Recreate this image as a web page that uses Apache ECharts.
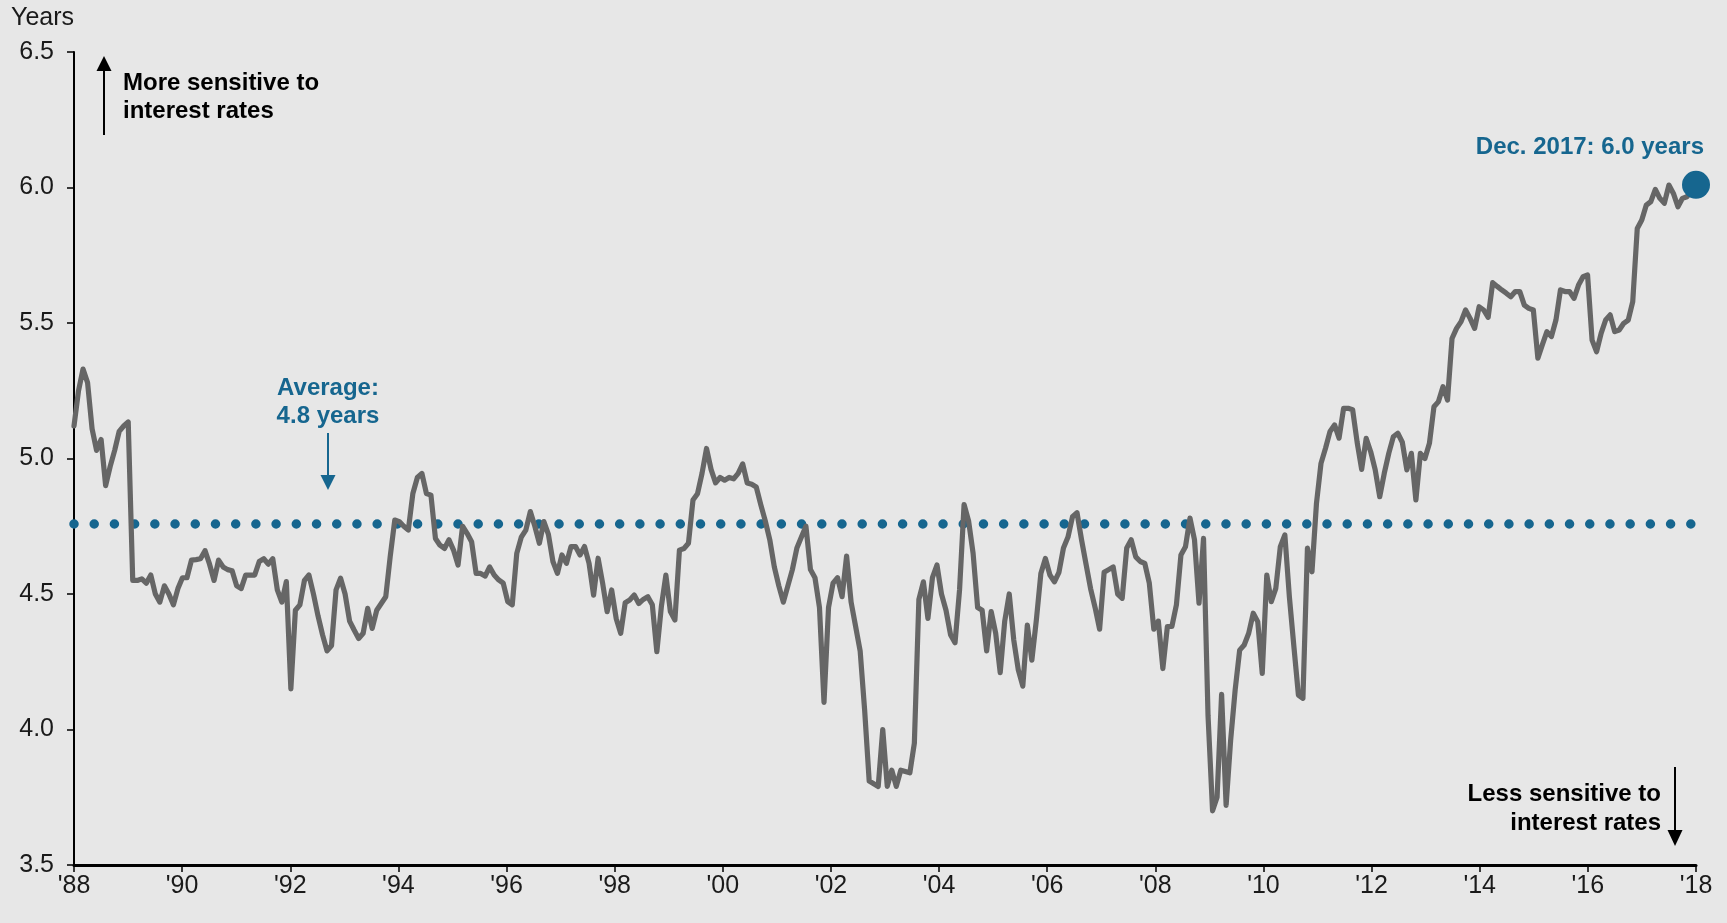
<!DOCTYPE html>
<html>
<head>
<meta charset="utf-8">
<script src="https://cdn.jsdelivr.net/npm/echarts@6/dist/echarts.min.js"></script>
<style>
html,body{margin:0;padding:0;background:#e7e7e7;}
#chart{width:1727px;height:923px;}
</style>
</head>
<body>
<div id="chart"></div>
<script>
// ---- Data ----
const startYear = 1988;
const endYear = 2018;
const tickYears = [1988,1990,1992,1994,1996,1998,2000,2002,2004,2006,2008,2010,2012,2014,2016,2018];
const yTicks = [3.5, 4.0, 4.5, 5.0, 5.5, 6.0, 6.5];
// Monthly duration (years), Jan 1988 .. Dec 2017, one row per year
const duration = [
  5.12, 5.25, 5.33, 5.28, 5.11, 5.03, 5.07, 4.90, 4.97, 5.03, 5.10, 5.12,
  5.135, 4.55, 4.55, 4.556, 4.54, 4.57, 4.50, 4.47, 4.53, 4.50, 4.46, 4.52,
  4.56, 4.56, 4.625, 4.627, 4.63, 4.66, 4.61, 4.55, 4.625, 4.60, 4.59, 4.586,
  4.53, 4.52, 4.57, 4.57, 4.57, 4.62, 4.63, 4.61, 4.63, 4.515, 4.47, 4.546,
  4.15, 4.44, 4.46, 4.55, 4.57, 4.50, 4.42, 4.35, 4.29, 4.31, 4.515, 4.558,
  4.50, 4.40, 4.367, 4.336, 4.355, 4.447, 4.373, 4.44, 4.465, 4.49, 4.64, 4.773,
  4.767, 4.75, 4.736, 4.871, 4.93, 4.945, 4.871, 4.865, 4.705, 4.68, 4.668, 4.70,
  4.662, 4.607, 4.75, 4.724, 4.693, 4.576, 4.576, 4.566, 4.60, 4.57, 4.552, 4.54,
  4.472, 4.46, 4.65, 4.71, 4.736, 4.804, 4.75, 4.687, 4.767, 4.72, 4.62, 4.576,
  4.644, 4.613, 4.675, 4.675, 4.644, 4.675, 4.613, 4.496, 4.632, 4.54, 4.435, 4.515,
  4.41, 4.355, 4.468, 4.478, 4.496, 4.465, 4.48, 4.49, 4.46, 4.287, 4.453, 4.57,
  4.435, 4.404, 4.662, 4.668, 4.687, 4.847, 4.87, 4.945, 5.037, 4.96, 4.91, 4.93,
  4.92, 4.93, 4.925, 4.945, 4.98, 4.91, 4.905, 4.895, 4.83, 4.77, 4.70, 4.60,
  4.53, 4.47, 4.53, 4.59, 4.67, 4.71, 4.75, 4.59, 4.56, 4.45, 4.10, 4.45,
  4.54, 4.56, 4.49, 4.64, 4.47, 4.38, 4.29, 4.07, 3.81, 3.80, 3.79, 4.00,
  3.79, 3.85, 3.79, 3.85, 3.845, 3.84, 3.95, 4.48, 4.545, 4.41, 4.56, 4.607,
  4.50, 4.44, 4.35, 4.32, 4.515, 4.83, 4.77, 4.65, 4.45, 4.44, 4.29, 4.435,
  4.355, 4.21, 4.40, 4.50, 4.33, 4.22, 4.16, 4.385, 4.256, 4.404, 4.576, 4.631,
  4.57, 4.545, 4.58, 4.67, 4.71, 4.785, 4.80, 4.70, 4.61, 4.52, 4.45, 4.37,
  4.58, 4.59, 4.60, 4.50, 4.484, 4.67, 4.70, 4.637, 4.62, 4.613, 4.54, 4.37,
  4.40, 4.225, 4.38, 4.38, 4.46, 4.644, 4.674, 4.78, 4.70, 4.466, 4.705, 4.05,
  3.70, 3.75, 4.13, 3.72, 3.96, 4.146, 4.293, 4.312, 4.355, 4.429, 4.398, 4.207,
  4.57, 4.472, 4.521, 4.675, 4.718, 4.49, 4.306, 4.127, 4.115, 4.669, 4.582, 4.835,
  4.982, 5.038, 5.10, 5.124, 5.075, 5.185, 5.185, 5.18, 5.06, 4.96, 5.074, 5.025,
  4.958, 4.859, 4.945, 5.019, 5.08, 5.093, 5.06, 4.958, 5.019, 4.847, 5.019, 5.0,
  5.056, 5.191, 5.21, 5.265, 5.216, 5.443, 5.48, 5.505, 5.548, 5.517, 5.48, 5.56,
  5.548, 5.521, 5.649, 5.635, 5.622, 5.61, 5.597, 5.616, 5.616, 5.566, 5.554, 5.548,
  5.37, 5.42, 5.468, 5.45, 5.511, 5.622, 5.616, 5.616, 5.591, 5.64, 5.671, 5.677,
  5.437, 5.394, 5.462, 5.511, 5.53, 5.468, 5.474, 5.499, 5.511, 5.579, 5.849, 5.88,
  5.935, 5.948, 5.993, 5.96, 5.942, 6.009, 5.978, 5.929, 5.96, 5.966, 5.99, 6.01
];
const averageDuration = 4.765;
const averageLabel = 'Average:\n4.8 years';
const latestLabel = 'Dec. 2017: 6.0 years';
const upLabel = 'More sensitive to\ninterest rates';
const downLabel = 'Less sensitive to\ninterest rates';
const yAxisTitle = 'Years';

// ---- Build ----
const n = duration.length;
const seriesData = duration.map((v, i) => [startYear + i * (endYear - startYear) / (n - 1), v]);
const lastPoint = seriesData[n - 1];

const BLUE = '#16668f';
const GRAY = '#666666';
const FONT = '"Liberation Sans", Arial, sans-serif';

const chart = echarts.init(document.getElementById('chart'), null, {renderer: 'canvas'});
chart.setOption({
  backgroundColor: '#e7e7e7',
  animation: false,
  grid: {left: 74, right: 31, top: 52, bottom: 58, containLabel: false},
  xAxis: {
    type: 'value', min: startYear, max: endYear, interval: 2,
    axisLine: {show: true, lineStyle: {color: '#000', width: 3}},
    axisTick: {show: true, length: 7, lineStyle: {color: '#000', width: 1.5}},
    splitLine: {show: false},
    axisLabel: {
      margin: 9, color: '#1a1a1a', fontSize: 25, fontFamily: FONT,
      formatter: v => tickYears.indexOf(v) >= 0 ? "'" + String(v).slice(2) : ''
    }
  },
  yAxis: {
    type: 'value', min: 3.5, max: 6.5, interval: 0.5,
    axisLine: {show: true, lineStyle: {color: '#000', width: 2}},
    axisTick: {show: true, length: 7, lineStyle: {color: '#000', width: 1.5}},
    splitLine: {show: false},
    axisLabel: {
      margin: 20, color: '#1a1a1a', fontSize: 25, fontFamily: FONT,
      formatter: v => yTicks.indexOf(v) >= 0 ? v.toFixed(1) : ''
    }
  },
  series: [
    {
      type: 'line', data: seriesData, showSymbol: false, symbol: 'none',
      sampling: 'none', smooth: false,
      lineStyle: {color: GRAY, width: 5.2, join: 'round', cap: 'round', opacity: 1},
      z: 3,
      markLine: {
        silent: true, symbol: ['none', 'none'],
        label: {show: false},
        lineStyle: {color: BLUE, width: 9.5, type: [0.01, 20.2], cap: 'round', opacity: 1},
        emphasis: {disabled: true},
        data: [{yAxis: averageDuration}],
        z: 2
      }
    },
    {
      type: 'scatter', data: [lastPoint], symbolSize: 28,
      itemStyle: {color: BLUE, opacity: 1}, z: 5
    }
  ],
  graphic: [
    {type: 'text', left: 11, top: 6, style: {text: yAxisTitle, font: '25px ' + FONT, fill: '#1a1a1a'}},
    // up arrow
    {type: 'line', shape: {x1: 104, y1: 135, x2: 104, y2: 68}, style: {stroke: '#000', lineWidth: 2}},
    {type: 'polygon', shape: {points: [[96.5, 71], [111.5, 71], [104, 56]]}, style: {fill: '#000'}},
    {type: 'text', x: 123, y: 69, style: {text: upLabel, font: 'bold 24px ' + FONT, fill: '#000', lineHeight: 28, textVerticalAlign: 'top'}},
    // average annotation
    {type: 'text', x: 328, y: 374, style: {text: averageLabel, font: 'bold 24px ' + FONT, fill: BLUE, lineHeight: 28, textAlign: 'center', textVerticalAlign: 'top'}},
    {type: 'line', shape: {x1: 328, y1: 433, x2: 328, y2: 478}, style: {stroke: BLUE, lineWidth: 2}},
    {type: 'polygon', shape: {points: [[320.5, 475], [335.5, 475], [328, 490]]}, style: {fill: BLUE}},
    // latest label
    {type: 'text', x: 1704, y: 147, style: {text: latestLabel, font: 'bold 24px ' + FONT, fill: BLUE, textAlign: 'right', textVerticalAlign: 'middle'}},
    // down arrow
    {type: 'text', x: 1661, y: 780, style: {text: downLabel, font: 'bold 24px ' + FONT, fill: '#000', lineHeight: 29, textAlign: 'right', textVerticalAlign: 'top'}},
    {type: 'line', shape: {x1: 1675, y1: 767, x2: 1675, y2: 833}, style: {stroke: '#000', lineWidth: 2}},
    {type: 'polygon', shape: {points: [[1667.5, 830], [1682.5, 830], [1675, 846]]}, style: {fill: '#000'}}
  ]
});
</script>
</body>
</html>
